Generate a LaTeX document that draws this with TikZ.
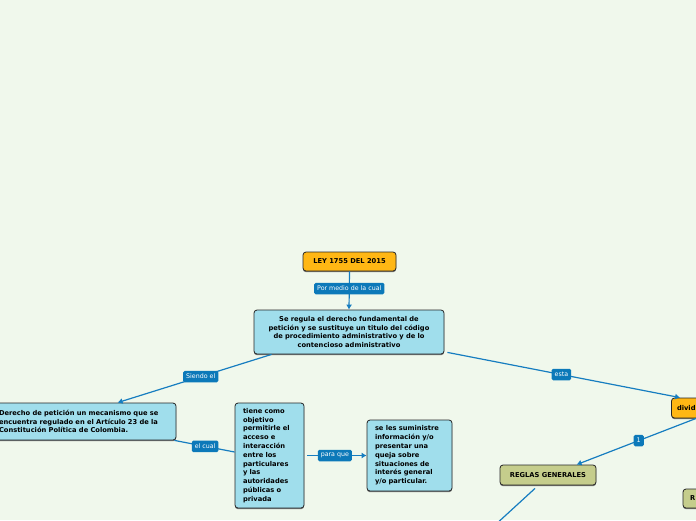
\documentclass[tikz,border=0pt]{standalone}
\usepackage{fontspec}
\setmainfont{DejaVu Sans}
\usetikzlibrary{arrows.meta,calc,shadows}
\definecolor{bgc}{RGB}{240,248,236}
\definecolor{orangeF}{RGB}{255,183,20}
\definecolor{blueF}{RGB}{160,222,236}
\definecolor{oliveF}{RGB}{197,205,140}
\definecolor{lblC}{RGB}{12,121,185}
\definecolor{lineC}{RGB}{22,125,192}
\begin{document}
\begin{tikzpicture}[x=1pt,y=-1pt,
  box/.style={draw=black!85, line width=0.8pt, rounded corners=3pt,
    font=\bfseries\fontsize{6.7}{8.8}\selectfont, inner ysep=0pt,
    drop shadow={shadow xshift=0pt, shadow yshift=-1.2pt, fill=black!55, opacity=1}},
  lbl/.style={fill=lblC, text=white, font=\fontsize{6.3}{7}\selectfont,
    rounded corners=1.5pt, inner xsep=3pt, inner ysep=0pt, minimum height=11.5pt},
  conn/.style={draw=lineC, line width=1.2pt},
  arr/.style={-{Latex[length=5pt,width=6pt]}}]
\useasboundingbox (0,0) rectangle (696,520);
\fill[bgc] (0,0) rectangle (696,520);
\clip (0,0) rectangle (696,520);

% nodes
\node[box, fill=orangeF, minimum width=93pt, minimum height=19pt, inner xsep=2pt] (ley) at (349.5,261.5) {LEY 1755 DEL 2015};
\node[box, fill=blueF, text width=182pt, inner xsep=4pt, align=center, minimum height=44pt] (main) at (349,332)
  {Se regula el derecho fundamental de\\petición y se sustituye un titulo del código\\de procedimiento administrativo y de lo\\contencioso administrativo};
\node[box, fill=blueF, text width=174pt, inner xsep=3pt, align=left, minimum height=37pt] (der) at (86,421.5)
  {Derecho de petición un mecanismo que se\\encuentra regulado en el Artículo 23 de la\\Constitución Política de Colombia.};
\node[box, fill=blueF, text width=53pt, inner xsep=8pt, align=left, minimum height=105pt] (tiene) at (269.5,455.5)
  {tiene como\\objetivo\\permitirle el\\acceso e\\interacción\\entre los\\particulares\\y las\\autoridades\\públicas o\\privada};
\node[box, fill=blueF, text width=69pt, inner xsep=8pt, align=left, minimum height=71pt] (seles) at (409.5,455.5)
  {se les suministre\\información y/o\\presentar una\\queja sobre\\situaciones de\\interés general\\y/o particular.};
\node[box, fill=orangeF, text width=64pt, inner xsep=5.5pt, align=left, minimum height=20pt] (divid) at (709,408) {divid};
\node[box, fill=oliveF, minimum width=96pt, minimum height=20pt, inner xsep=2pt] (rg) at (548,475) {REGLAS GENERALES};
\node[box, fill=oliveF, text width=86pt, inner xsep=7pt, align=left, minimum height=19pt] (r2) at (733,498.5) {R};
\coordinate (rgout) at (494,526);

% connectors
\draw[conn, arr] (ley.south) -- node[lbl, pos=0.45] (l1) {Por medio de la cual} (main.north);
\draw[conn, arr] ([xshift=18pt]main.south west) -- node[lbl, pos=0.46] (l2) {Siendo el} ([xshift=122pt]der.north west);
\draw[conn, arr] ([xshift=3pt,yshift=2pt]main.south east) -- node[lbl, pos=0.49] (l3) {esta} ([xshift=9pt]divid.north west);
\draw[conn, arr] ([xshift=25pt]divid.south west) -- node[lbl, pos=0.48] (l4) {1} ([xshift=77pt]rg.north west);
\draw[conn] ([xshift=-2pt]der.south east) -- node[lbl, pos=0.51] (l5) {el cual} ([yshift=3.5pt]tiene.west);
\draw[conn, arr, shorten <=3pt] (tiene.east) -- node[lbl, pos=0.49] (l6) {para que} (seles.west);
\draw[conn] ([xshift=-13pt,yshift=-3pt]rg.south) -- (rgout);
\end{tikzpicture}
\end{document}
